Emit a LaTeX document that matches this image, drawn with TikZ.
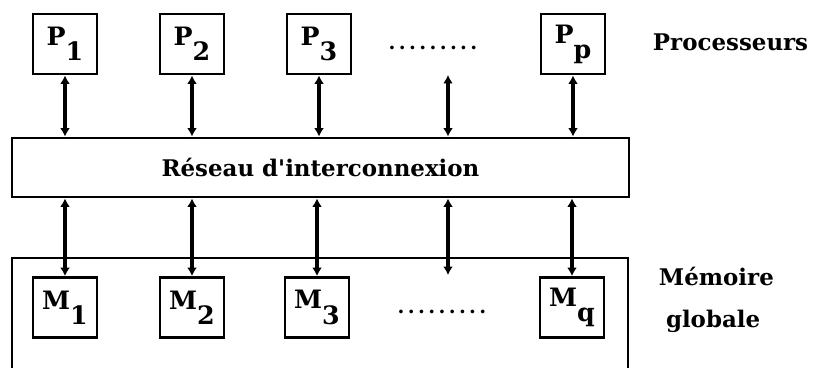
\documentclass[tikz,border=0pt]{standalone}
\usepackage{fontspec}
\setmainfont{DejaVu Serif}[Ligatures=TeXOff]
\usepackage{tikz}
\usetikzlibrary{arrows.meta}

% lowered index, as printed in the boxes
\newcommand{\idx}[1]{\raisebox{-0.6em}{#1}}
% row of dots
\newcommand{\pointille}{.\kern2.4pt.\kern2.4pt.\kern2.4pt.\kern2.4pt.\kern2.4pt.\kern2.4pt.\kern2.4pt.\kern2.4pt.}

\begin{document}
\begin{tikzpicture}[x=0.025cm,y=-0.025cm,
  unit/.style={draw,line width=2pt,minimum width=1.6cm,minimum height=1.5cm,
    inner sep=0pt,font=\bfseries\fontsize{18}{20}\selectfont},
  lien/.style={line width=2.2pt,{Latex[length=6pt,width=7pt]}-{Latex[length=6pt,width=7pt]}},
  points/.style={font=\bfseries\fontsize{14}{16}\selectfont},
  legende/.style={anchor=west,font=\bfseries\fontsize{16.3}{30}\selectfont,align=left}]
\useasboundingbox (0,0) rectangle (815,368);
% processeurs
\node[unit] (p1) at (65,44) {P\idx{1}};
\node[unit] (p2) at (192,44) {P\idx{2}};
\node[unit] (p3) at (319,44) {P\idx{3}};
\node[unit] (pp) at (573,44) {P\idx{p}};
\node[points] (pdots) at (433,48) {\pointille};
\node[legende] (lproc) at (648,42) {Processeurs};
% reseau
\node[draw,line width=2pt,minimum width=15.425cm,minimum height=1.475cm,
  font=\bfseries\fontsize{16.3}{18}\selectfont] (net) at (320.5,167.5) {Réseau d'interconnexion};
% memoire globale
\draw[line width=2pt] (12,370) -- (12,258) -- (628,258) -- (628,370);
\node[unit] (m1) at (65,307.5) {M\idx{1}};
\node[unit] (m2) at (192,307.5) {M\idx{2}};
\node[unit] (m3) at (317,307.5) {M\idx{3}};
\node[unit] (mq) at (572,307.5) {M\idx{q}};
\node[points] (mdots) at (442,312) {\pointille};
\node[legende] (lmem) at (654,300) {Mémoire\\\hspace*{5pt}globale};
% liaisons
\coordinate (h4) at (448,75);
\coordinate (b4) at (448,275);
\foreach \n in {p1,p2,p3,pp}
  \draw[lien] (\n.south) -- (\n.south |- net.north);
\draw[lien] (h4) -- (h4 |- net.north);
\foreach \n in {m1,m2,m3,mq}
  \draw[lien] (\n.north |- net.south) -- (\n.north);
\draw[lien] (b4 |- net.south) -- (b4);
\end{tikzpicture}
\end{document}
